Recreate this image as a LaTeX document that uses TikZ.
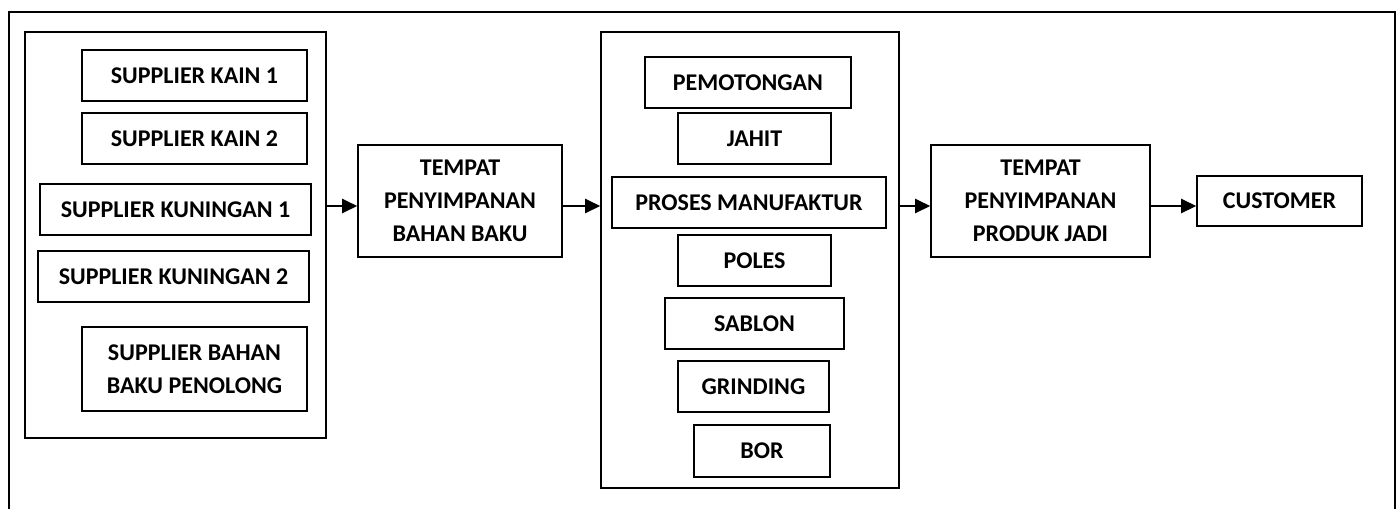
\documentclass[tikz,border=0pt]{standalone}
\usepackage{fontspec}
\setmainfont{Carlito}
\usepackage{tikz}
\usetikzlibrary{arrows.meta}

\tikzset{
  procbox/.style={draw, line width=1.6pt, inner sep=0pt, align=center,
    font=\fontsize{24}{33}\selectfont\bfseries},
  groupbox/.style={draw, line width=1.6pt, inner sep=0pt},
  flow/.style={-{Triangle[length=15pt,width=14pt]}, line width=2.4pt}
}

\begin{document}
\begin{tikzpicture}[x=1pt, y=-1pt]
    \useasboundingbox (0,0) rectangle (1397,509);
    % outer frame, open at the bottom
    \draw   [line width=1.6pt] (9,509) -- (9,12) -- (1395,12) -- (1395,509);

    % suppliers
    \node   [groupbox, minimum width=301, minimum height=406] (supp) at (175.5,235) {};
    \node   [procbox, minimum width=225, minimum height=51] (kain1) at (194.5,75.5) {SUPPLIER KAIN 1};
    \node   [procbox, minimum width=225, minimum height=51] (kain2) at (194.5,138.5) {SUPPLIER KAIN 2};
    \node   [procbox, minimum width=271, minimum height=51] (kun1) at (175.5,209.5) {SUPPLIER KUNINGAN 1};
    \node   [procbox, minimum width=271, minimum height=51] (kun2) at (173.5,276.5) {SUPPLIER KUNINGAN 2};
    \node   [procbox, minimum width=225, minimum height=84] (tolong) at (194.5,369) {SUPPLIER BAHAN\\BAKU PENOLONG};

    \node   [procbox, minimum width=204, minimum height=112] (gudbaku) at (460,201) {TEMPAT\\PENYIMPANAN\\BAHAN BAKU};

    % manufacturing steps
    \node   [groupbox, minimum width=298, minimum height=456] (manuf) at (750,260) {};
    \node   [procbox, minimum width=206, minimum height=51] (potong) at (748,82.5) {PEMOTONGAN};
    \node   [procbox, minimum width=153, minimum height=51] (jahit) at (754.5,138.5) {JAHIT};
    \node   [procbox, minimum width=274, minimum height=51] (proses) at (749,202.5) {PROSES MANUFAKTUR};
    \node   [procbox, minimum width=153, minimum height=51] (poles) at (754.5,260.5) {POLES};
    \node   [procbox, minimum width=179, minimum height=51] (sablon) at (754.5,323.5) {SABLON};
    \node   [procbox, minimum width=151, minimum height=51] (grind) at (753.5,386.5) {GRINDING};
    \node   [procbox, minimum width=136, minimum height=52] (bor) at (762,451) {BOR};

    \node   [procbox, minimum width=219, minimum height=112] (gudjadi) at (1040.5,201) {TEMPAT\\PENYIMPANAN\\PRODUK JADI};
    \node   [procbox, minimum width=165, minimum height=50] (cust) at (1279.5,201) {CUSTOMER};

    \coordinate (lane) at (0,206);
    \draw   [flow] (supp.east |- lane) -- (gudbaku.west |- lane);
    \draw   [flow] (gudbaku.east |- lane) -- (manuf.west |- lane);
    \draw   [flow] (manuf.east |- lane) -- (gudjadi.west |- lane);
    \draw   [flow] (gudjadi.east |- lane) -- (cust.west |- lane);
\end{tikzpicture}
\end{document}
